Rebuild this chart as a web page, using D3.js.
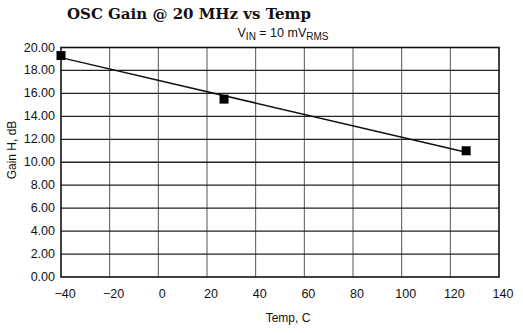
<!DOCTYPE html>
<html>
<head>
<meta charset="utf-8">
<script src="https://cdn.jsdelivr.net/npm/d3@7"></script>
<style>
  body { margin: 0; background: #fff; }
  text { font-family: "Liberation Sans", Arial, sans-serif; fill: #111; }
</style>
</head>
<body>
<figure id="chart" style="margin:0"></figure>
<script>
// measured points
const temps = [-40, 27, 126.5];
const gains = [19.3, 15.5, 11.0];
const xTicks = [-40, -20, 0, 20, 40, 60, 80, 100, 120, 140];
const yTicks = [0, 2, 4, 6, 8, 10, 12, 14, 16, 18, 20];

const width = 523, height = 333;
const margin = { top: 47.5, right: 24, bottom: 56, left: 61 };

const svg = d3.select("figure#chart")
  .append("svg")
  .attr("width", width)
  .attr("height", height);

const x = d3.scaleLinear().domain([-40, 140]).range([margin.left, width - margin.right]);
const y = d3.scaleLinear().domain([0, 20]).range([height - margin.bottom, margin.top]);

// grid
svg.append("g")
  .selectAll("line.v")
  .data(xTicks.slice(1, -1))
  .enter().append("line")
  .attr("x1", d => x(d)).attr("x2", d => x(d))
  .attr("y1", y(20)).attr("y2", y(0))
  .attr("stroke", "#555").attr("stroke-width", 1);

svg.append("g")
  .selectAll("line.h")
  .data(yTicks.slice(1, -1))
  .enter().append("line")
  .attr("x1", x(-40)).attr("x2", x(140))
  .attr("y1", d => y(d)).attr("y2", d => y(d))
  .attr("stroke", "#222").attr("stroke-width", 1.3);

// frame
svg.append("rect")
  .attr("x", x(-40)).attr("y", y(20))
  .attr("width", x(140) - x(-40)).attr("height", y(0) - y(20))
  .attr("fill", "none").attr("stroke", "#111").attr("stroke-width", 1.6);

// tick labels
svg.append("g")
  .selectAll("text")
  .data(yTicks)
  .enter().append("text")
  .attr("x", x(-40) - 6)
  .attr("y", d => y(d) + 4)
  .attr("text-anchor", "end")
  .attr("font-size", 12.5)
  .text(d => d3.format(".2f")(d));

svg.append("g")
  .selectAll("text")
  .data(xTicks)
  .enter().append("text")
  .attr("x", d => x(d) + 4)
  .attr("y", y(0) + 21)
  .attr("text-anchor", "middle")
  .attr("font-size", 12.5)
  .text(d => d < 0 ? "\u2212" + Math.abs(d) : d);

// trend line (least squares through the points)
const mx = d3.mean(temps), my = d3.mean(gains);
const slope = d3.sum(temps, (t, i) => (t - mx) * (gains[i] - my)) /
              d3.sum(temps, t => (t - mx) * (t - mx));
const fit = t => my + slope * (t - mx);
const ends = [d3.min(temps), d3.max(temps)];

svg.append("path")
  .datum(ends)
  .attr("d", d3.line().x(t => x(t)).y(t => y(fit(t))))
  .attr("fill", "none")
  .attr("stroke", "#111")
  .attr("stroke-width", 1.5);

svg.append("g")
  .selectAll("rect")
  .data(temps)
  .enter().append("rect")
  .attr("x", (t) => x(t) - 4.5)
  .attr("y", (t, i) => y(gains[i]) - 4.5)
  .attr("width", 9).attr("height", 9)
  .attr("fill", "#000");

// titles
svg.append("text")
  .attr("x", 67).attr("y", 19)
  .style("font-family", "'DejaVu Serif', serif")
  .attr("font-weight", "bold")
  .attr("font-size", 15)
  .text("OSC Gain @ 20 MHz vs Temp");

const sub = svg.append("text")
  .attr("x", 283).attr("y", 37)
  .attr("text-anchor", "middle")
  .attr("font-size", 12.5);
sub.append("tspan").text("V");
sub.append("tspan").attr("dy", 3).attr("font-size", 10).text("IN");
sub.append("tspan").attr("dy", -3).text(" = 10 mV");
sub.append("tspan").attr("dy", 3).attr("font-size", 10).text("RMS");

svg.append("text")
  .attr("x", 288)
  .attr("y", 322)
  .attr("text-anchor", "middle")
  .attr("font-size", 12)
  .text("Temp, C");

svg.append("text")
  .attr("transform", "translate(16,150) rotate(-90)")
  .attr("text-anchor", "middle")
  .attr("font-size", 12)
  .text("Gain H, dB");
</script>
</body>
</html>
